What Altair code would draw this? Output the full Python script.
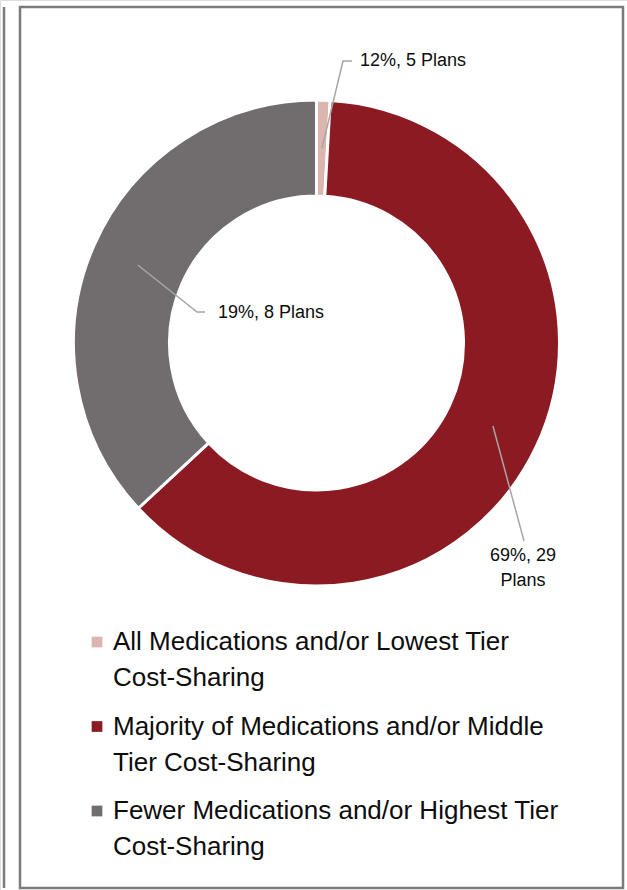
import math
import altair as alt
import pandas as pd

# ---------------- data ----------------
categories = [
    "All Medications and/or Lowest Tier Cost-Sharing",
    "Majority of Medications and/or Middle Tier Cost-Sharing",
    "Fewer Medications and/or Highest Tier Cost-Sharing",
]
legend_lines = [
    "All Medications and/or Lowest Tier\nCost-Sharing",
    "Majority of Medications and/or Middle\nTier Cost-Sharing",
    "Fewer Medications and/or Highest Tier\nCost-Sharing",
]
# arc sizes as drawn in the picture (percent of the ring)
shares = [0.9, 62.2, 36.9]
# data labels as printed
label_texts = ["12%, 5 Plans", "69%, 29\nPlans", "19%, 8 Plans"]
colors = ["#dbb5ae", "#8b1a22", "#716d6e"]

# ---------------- layout ----------------
W, H = 627, 890
CX, CY = 316.5, 343
R_OUT, R_IN = 243, 147
R_MID = 195
FONT = "Liberation Sans, Arial, sans-serif"
LEADER = "#a6a6a6"
FRAME = "#7b7b7b"
TEXT = "#0d0d0d"

# label anchor (elbow points, text position, alignment)
label_layout = [
    {"elbow": [(343, 61), (352, 61)], "tx": 360, "ty": 61, "align": "left"},
    {"elbow": [(524, 541)], "tx": 523, "ty": 556, "align": "center"},
    {"elbow": [(197, 312), (205, 312)], "tx": 218, "ty": 313, "align": "left"},
]
legend_x_sym, legend_x_text = 97, 113
legend_y = [642, 726.5, 811]   # centre of first line of each entry
legend_line_h = 36

# ---------------- tables ----------------
pie_df = pd.DataFrame({"cat": categories, "share": shares, "idx": range(len(categories))})

total = sum(shares)
leader_rows = []
cum = 0.0
for i, s in enumerate(shares):
    mid = (cum + s / 2) / total * 2 * math.pi
    cum += s
    sx = CX + R_MID * math.sin(mid)
    sy = CY - R_MID * math.cos(mid)
    pts = [(sx, sy)] + label_layout[i]["elbow"]
    for j, (px, py) in enumerate(pts):
        leader_rows.append({"cat": categories[i], "seq": j, "px": px, "py": py})
leader_df = pd.DataFrame(leader_rows)

label_df = pd.DataFrame({
    "text": label_texts,
    "px": [l["tx"] for l in label_layout],
    "py": [l["ty"] for l in label_layout],
    "align": [l["align"] for l in label_layout],
})

legend_df = pd.DataFrame({
    "cat": categories,
    "text": legend_lines,
    "py": legend_y,
    "px_sym": [legend_x_sym] * 3,
    "px": [legend_x_text] * 3,
})

xs = alt.Scale(domain=[0, W], nice=False, zero=False)
ys = alt.Scale(domain=[0, H], nice=False, zero=False, reverse=True)
color_scale = alt.Scale(domain=categories, range=colors)

frame = alt.Chart(pd.DataFrame({"a": [0]})).mark_rect(
    fillOpacity=0, stroke=FRAME, strokeWidth=2.5
).encode(x=alt.value(20), x2=alt.value(623), y=alt.value(7), y2=alt.value(888))

left_line = alt.Chart(pd.DataFrame({"a": [0]})).mark_rule(
    stroke=FRAME, strokeWidth=2.5
).encode(x=alt.value(4), y=alt.value(7), y2=alt.value(888))

donut = alt.Chart(pie_df).mark_arc(
    outerRadius=R_OUT, innerRadius=R_IN, stroke="white", strokeWidth=3
).encode(
    theta=alt.Theta("share:Q", stack=True),
    color=alt.Color("cat:N", scale=color_scale, legend=None),
    order=alt.Order("idx:Q"),
    x=alt.value(CX),
    y=alt.value(CY),
)

leaders = alt.Chart(leader_df).mark_line(color=LEADER, strokeWidth=1.5).encode(
    x=alt.X("px:Q", scale=xs, axis=None),
    y=alt.Y("py:Q", scale=ys, axis=None),
    detail="cat:N",
    order="seq:Q",
)

labels_left = alt.Chart(label_df[label_df["align"] == "left"]).mark_text(
    font=FONT, fontSize=18, color=TEXT, align="left", baseline="middle"
).encode(
    x=alt.X("px:Q", scale=xs, axis=None),
    y=alt.Y("py:Q", scale=ys, axis=None),
    text="text:N",
)
labels_center = alt.Chart(label_df[label_df["align"] == "center"]).mark_text(
    font=FONT, fontSize=18, color=TEXT, align="center", baseline="middle",
    lineBreak="\n", lineHeight=25
).encode(
    x=alt.X("px:Q", scale=xs, axis=None),
    y=alt.Y("py:Q", scale=ys, axis=None),
    text="text:N",
)

legend_sym = alt.Chart(legend_df).mark_square(size=115, opacity=1).encode(
    x=alt.X("px_sym:Q", scale=xs, axis=None),
    y=alt.Y("py:Q", scale=ys, axis=None),
    color=alt.Color("cat:N", scale=color_scale, legend=None),
)
legend_txt = alt.Chart(legend_df).mark_text(
    font=FONT, fontSize=26, color=TEXT, align="left", baseline="middle",
    lineBreak="\n", lineHeight=legend_line_h
).encode(
    x=alt.X("px:Q", scale=xs, axis=None),
    y=alt.Y("py:Q", scale=ys, axis=None),
    text="text:N",
)

chart = alt.layer(
    frame, left_line, donut, leaders, labels_left, labels_center, legend_sym, legend_txt
).properties(
    width=W, height=H, padding=0, autosize=alt.AutoSizeParams(type="none")
).configure_view(stroke=None).configure(background="white")

chart.save("out.html", embed_options={"renderer": "svg", "actions": False})
